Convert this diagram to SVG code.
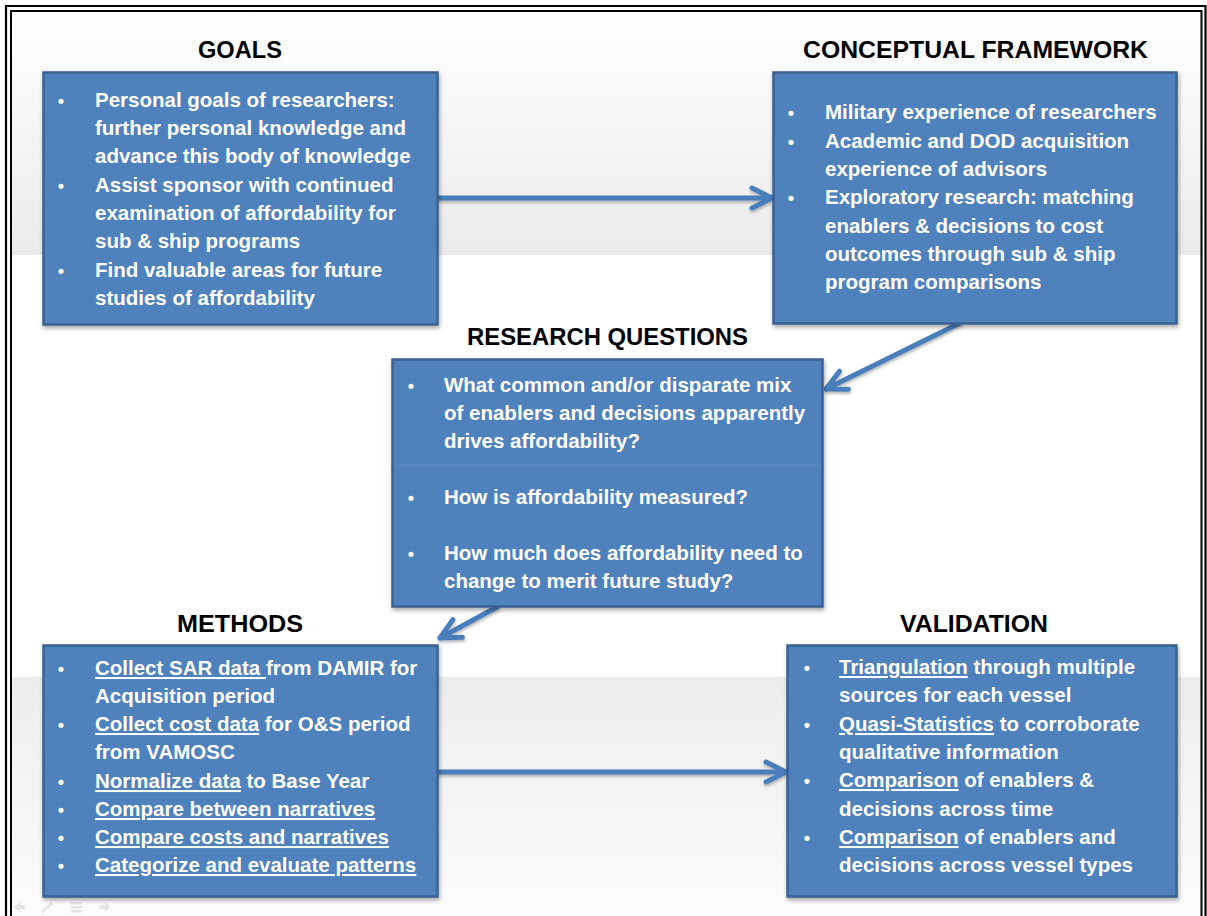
<svg xmlns="http://www.w3.org/2000/svg" width="1207" height="916" viewBox="0 0 1207 916">
<defs>
<linearGradient id="bgTop" x1="0" y1="0" x2="0" y2="1">
<stop offset="0" stop-color="#ffffff"/>
<stop offset="1" stop-color="#ebebeb"/>
</linearGradient>
<linearGradient id="bgBot" x1="0" y1="0" x2="0" y2="1">
<stop offset="0" stop-color="#ededed"/>
<stop offset="1" stop-color="#fcfcfc"/>
</linearGradient>
<filter id="shadow" x="-10%" y="-10%" width="120%" height="130%">
<feDropShadow dx="1" dy="2.5" stdDeviation="2" flood-color="#000" flood-opacity="0.35"/>
</filter>
<filter id="lshadow" filterUnits="userSpaceOnUse" x="0" y="0" width="1207" height="916">
<feDropShadow dx="0.5" dy="2" stdDeviation="1.5" flood-color="#000" flood-opacity="0.3"/>
</filter>
<marker id="chev" markerUnits="userSpaceOnUse" markerWidth="40" markerHeight="40" refX="0" refY="0" orient="auto" overflow="visible">
<path d="M-20,-10 L0,0 L-20,10" fill="none" stroke="#4a7ebb" stroke-width="5" stroke-linecap="round" stroke-linejoin="round"/>
</marker>
<style>
.box{fill:#4f81bd;stroke:#3b6290;stroke-width:2.5;filter:url(#shadow)}
.title{font-family:"Liberation Sans",Arial,sans-serif;font-weight:bold;font-size:24px;fill:#000;text-anchor:middle}
.body{font-family:"Liberation Sans",Arial,sans-serif;font-weight:bold;font-size:20.5px;fill:#ffffff}
.bul{font-family:"Liberation Sans",Arial,sans-serif;font-weight:bold;font-size:18px;fill:#ffffff;text-anchor:middle}
.u{text-decoration:underline}
.conn{fill:none;stroke:#4a7ebb;stroke-width:5;stroke-linecap:round;marker-end:url(#chev);filter:url(#lshadow)}
</style>
</defs>

<!-- background -->
<rect x="0" y="0" width="1207" height="916" fill="#ffffff"/>
<rect x="11" y="11" width="1190" height="244" fill="url(#bgTop)"/>
<rect x="11" y="677" width="1190" height="239" fill="url(#bgBot)"/>

<!-- frame -->
<g id="frame" fill="none" stroke="#000">
<path d="M6,916 V6 H1205.5 V916" stroke-width="2.2"/>
<path d="M11,916 V11 H1201.5 V916" stroke-width="2"/>
</g>

<!-- slideshow nav icons (faint) -->
<g id="navicons" fill="#e2e2e2" stroke="none" opacity="0.9">
<path d="M14,907 L20,902 L20,905 L25,905 L25,909 L20,909 L20,912 Z"/>
<path d="M41,912 L51,902 L53,904 L43,913 Z"/>
<rect x="71" y="902" width="11" height="2.5"/>
<rect x="71" y="906" width="11" height="2.5"/>
<rect x="71" y="910" width="11" height="2.5"/>
<path d="M111,907 L105,902 L105,905 L99,905 L99,909 L105,909 L105,912 Z"/>
</g>

<!-- connectors -->
<g id="connectors">
<path class="conn" d="M439,198 L772,198"/>
<path class="conn" d="M960,323 L826,389"/>
<path class="conn" d="M497,607 L440,638"/>
<path class="conn" d="M439,772 L786,772"/>
</g>

<!-- GOALS -->
<g id="goals">
<text class="title" x="240" y="58" textLength="84" lengthAdjust="spacingAndGlyphs">GOALS</text>
<rect class="box" x="43.5" y="72.5" width="394" height="252"/>
<text class="bul" x="61" y="107">•</text>
<text class="bul" x="61" y="192">•</text>
<text class="bul" x="61" y="277">•</text>
<text class="body" x="95" y="107">Personal goals of researchers:</text>
<text class="body" x="95" y="135">further personal knowledge and</text>
<text class="body" x="95" y="163">advance this body of knowledge</text>
<text class="body" x="95" y="192">Assist sponsor with continued</text>
<text class="body" x="95" y="220">examination of affordability for</text>
<text class="body" x="95" y="248">sub &amp; ship programs</text>
<text class="body" x="95" y="277">Find valuable areas for future</text>
<text class="body" x="95" y="305">studies of affordability</text>
</g>

<!-- CONCEPTUAL FRAMEWORK -->
<g id="conceptual">
<text class="title" x="975.5" y="58" textLength="345" lengthAdjust="spacingAndGlyphs">CONCEPTUAL FRAMEWORK</text>
<rect class="box" x="773.5" y="72.5" width="403" height="251"/>
<text class="bul" x="791" y="119">•</text>
<text class="bul" x="791" y="147.5">•</text>
<text class="bul" x="791" y="204">•</text>
<text class="body" x="825" y="119">Military experience of researchers</text>
<text class="body" x="825" y="147.5">Academic and DOD acquisition</text>
<text class="body" x="825" y="176">experience of advisors</text>
<text class="body" x="825" y="204">Exploratory research: matching</text>
<text class="body" x="825" y="232.5">enablers &amp; decisions to cost</text>
<text class="body" x="825" y="261">outcomes through sub &amp; ship</text>
<text class="body" x="825" y="289">program comparisons</text>
</g>

<!-- RESEARCH QUESTIONS -->
<g id="research">
<text class="title" x="607.5" y="345" textLength="281" lengthAdjust="spacingAndGlyphs">RESEARCH QUESTIONS</text>
<rect class="box" x="392.5" y="359.5" width="430" height="247"/>
<line x1="394" y1="465" x2="821" y2="465" stroke="#ffffff" stroke-opacity="0.12" stroke-width="1"/>
<text class="bul" x="411" y="392">•</text>
<text class="bul" x="411" y="504">•</text>
<text class="bul" x="411" y="560">•</text>
<text class="body" x="444" y="392">What common and/or disparate mix</text>
<text class="body" x="444" y="420">of enablers and decisions apparently</text>
<text class="body" x="444" y="448">drives affordability?</text>
<text class="body" x="444" y="504">How is affordability measured?</text>
<text class="body" x="444" y="560">How much does affordability need to</text>
<text class="body" x="444" y="588">change to merit future study?</text>
</g>

<!-- METHODS -->
<g id="methods">
<text class="title" x="240" y="632" textLength="126" lengthAdjust="spacingAndGlyphs">METHODS</text>
<rect class="box" x="43.5" y="645.5" width="394" height="251"/>
<text class="bul" x="61" y="675">•</text>
<text class="bul" x="61" y="731">•</text>
<text class="bul" x="61" y="788">•</text>
<text class="bul" x="61" y="816">•</text>
<text class="bul" x="61" y="844">•</text>
<text class="bul" x="61" y="872">•</text>
<text class="body" x="95" y="675" xml:space="preserve"><tspan class="u">Collect SAR data </tspan>from DAMIR for</text>
<text class="body" x="95" y="703">Acquisition period</text>
<text class="body" x="95" y="731" xml:space="preserve"><tspan class="u">Collect cost data</tspan> for O&amp;S period</text>
<text class="body" x="95" y="759">from VAMOSC</text>
<text class="body" x="95" y="788" xml:space="preserve"><tspan class="u">Normalize data</tspan> to Base Year</text>
<text class="body u" x="95" y="816">Compare between narratives</text>
<text class="body u" x="95" y="844">Compare costs and narratives</text>
<text class="body u" x="95" y="872">Categorize and evaluate patterns</text>
</g>

<!-- VALIDATION -->
<g id="validation">
<text class="title" x="974" y="632" textLength="148" lengthAdjust="spacingAndGlyphs">VALIDATION</text>
<rect class="box" x="787.5" y="645.5" width="389" height="251"/>
<text class="bul" x="807" y="674">•</text>
<text class="bul" x="807" y="731">•</text>
<text class="bul" x="807" y="787">•</text>
<text class="bul" x="807" y="844">•</text>
<text class="body" x="839" y="674" xml:space="preserve"><tspan class="u">Triangulation</tspan> through multiple</text>
<text class="body" x="839" y="702">sources for each vessel</text>
<text class="body" x="839" y="731" xml:space="preserve"><tspan class="u">Quasi-Statistics</tspan> to corroborate</text>
<text class="body" x="839" y="759">qualitative information</text>
<text class="body" x="839" y="787" xml:space="preserve"><tspan class="u">Comparison</tspan> of enablers &amp;</text>
<text class="body" x="839" y="816">decisions across time</text>
<text class="body" x="839" y="844" xml:space="preserve"><tspan class="u">Comparison</tspan> of enablers and</text>
<text class="body" x="839" y="872">decisions across vessel types</text>
</g>
</svg>
